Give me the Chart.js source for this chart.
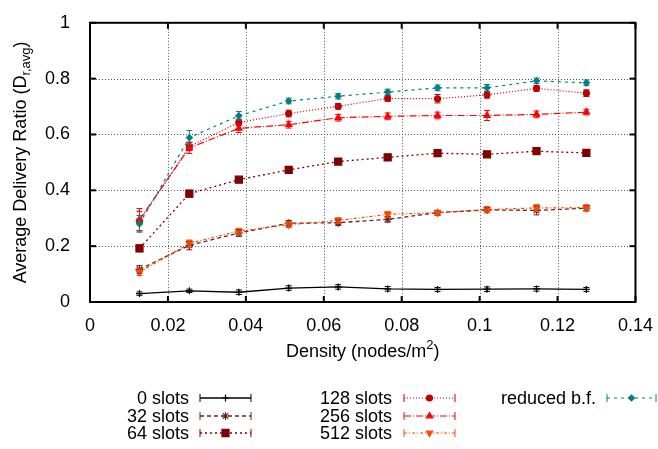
<!DOCTYPE html>
<html><head><meta charset="utf-8">
<script src="https://cdn.jsdelivr.net/npm/chart.js@4/dist/chart.umd.min.js"></script>
<style>html,body{margin:0;padding:0;background:#fff;}#wrap{width:658px;height:449px;}</style>
</head><body><div id="wrap"><canvas id="c" width="658" height="449"></canvas></div>
<script>
// ---- data ----
const density = [0.0127,0.0255,0.0382,0.0510,0.0637,0.0764,0.0892,0.1019,0.1146,0.1274];
const slots0   = [0.030,0.040,0.035,0.050,0.054,0.047,0.045,0.046,0.047,0.045];
const slots0Err= [0.006,0.006,0.008,0.008,0.008,0.008,0.007,0.008,0.008,0.007];
const slots32  = [0.117,0.203,0.247,0.282,0.284,0.296,0.320,0.330,0.328,0.336];
const slots32Err=[0.014,0.016,0.012,0.010,0.010,0.010,0.008,0.010,0.016,0.010];
const slots64  = [0.192,0.388,0.438,0.473,0.503,0.518,0.533,0.529,0.540,0.534];
const slots64Err=[0.012,0.012,0.010,0.010,0.010,0.010,0.008,0.010,0.010,0.010];
const slots128 = [0.290,0.557,0.643,0.675,0.701,0.729,0.728,0.742,0.765,0.748];
const slots128Err=[0.035,0.015,0.012,0.012,0.010,0.010,0.015,0.012,0.010,0.012];
const slots256 = [0.295,0.552,0.622,0.635,0.660,0.665,0.668,0.668,0.672,0.680];
const slots256Err=[0.040,0.020,0.015,0.012,0.012,0.012,0.012,0.018,0.012,0.010];
const slots512 = [0.107,0.210,0.254,0.277,0.292,0.314,0.320,0.331,0.337,0.338];
const slots512Err=[0.012,0.012,0.010,0.010,0.010,0.010,0.008,0.010,0.012,0.010];
const reducedBF= [0.280,0.589,0.667,0.720,0.737,0.752,0.767,0.767,0.792,0.785];
const reducedBFErr=[0.030,0.025,0.015,0.010,0.010,0.010,0.010,0.012,0.010,0.010];
const seriesNames = ['0 slots','32 slots','64 slots','128 slots','256 slots','512 slots','reduced b.f.'];
const xTickLabels = ['0','0.02','0.04','0.06','0.08','0.1','0.12','0.14'];
const yTickLabels = ['0','0.2','0.4','0.6','0.8','1'];
const xTitle = ['Density (nodes/m','2',')'];
const yTitle = ['Average Delivery Ratio (D','r,avg',')'];

// ---- styles ----
const FONT = '"Liberation Sans", Arial, Helvetica, sans-serif';
const FS = 18;
const styles = [
  {color:'#000000', dash:[], width:1.3, ps:'cross', r:3.5, rot:0},
  {color:'#6a2424', dash:[4,3], width:1.3, ps:'star', r:4, rot:0},
  {color:'#800000', dash:[2,3], width:1.3, ps:'rect', r:5, rot:0},
  {color:'#c00000', dash:[1,2], width:1.2, ps:'circle', r:3, rot:0},
  {color:'#ff0000', dash:[7,2,1,2], width:1.2, ps:'triangle', r:3.6, rot:0},
  {color:'#ff4a00', dash:[3,2,1,2], width:1.2, ps:'triangle', r:3.6, rot:180},
  {color:'#008080', dash:[3,4], width:1.2, ps:'rectRot', r:3, rot:0}
];
const values = [slots0,slots32,slots64,slots128,slots256,slots512,reducedBF];
const errors = [slots0Err,slots32Err,slots64Err,slots128Err,slots256Err,slots512Err,reducedBFErr];

const datasets = seriesNames.map((n,k)=>({
  label:n,
  data: density.map((d,i)=>({x:d,y:values[k][i]})),
  errs: errors[k],
  borderColor: styles[k].color, backgroundColor: styles[k].color,
  borderWidth: styles[k].width, borderDash: styles[k].dash,
  pointStyle: styles[k].ps, pointRadius: styles[k].r, pointRotation: styles[k].rot,
  pointBorderWidth: 1.2, pointHoverRadius: styles[k].r,
  tension: 0, fill:false, order: seriesNames.length - k
}));

function line(ctx,x1,y1,x2,y2){ctx.beginPath();ctx.moveTo(x1,y1);ctx.lineTo(x2,y2);ctx.stroke();}

const gp = {
  id:'gp',
  beforeDatasetsDraw(chart){
    const {ctx, chartArea:a, scales:{x,y}} = chart;
    ctx.save();
    ctx.strokeStyle='#555'; ctx.lineWidth=1; ctx.setLineDash([1,2]);
    xTickLabels.map(parseFloat).forEach(v=>{
      if(v<=0||v>=0.14) return;
      const px=Math.round(x.getPixelForValue(v))+0.5; line(ctx,px,a.top,px,a.bottom);
    });
    yTickLabels.map(parseFloat).forEach(v=>{
      if(v<=0||v>=1) return;
      const py=Math.round(y.getPixelForValue(v))+0.5; line(ctx,a.left,py,a.right,py);
    });
    ctx.restore();
  },
  afterDatasetsDraw(chart){
    const {ctx, scales:{x,y}} = chart;
    ctx.save(); ctx.setLineDash([]); ctx.lineWidth=1;
    chart.data.datasets.forEach((ds)=>{
      ctx.strokeStyle = ds.borderColor;
      ds.data.forEach((p,i)=>{
        const e = ds.errs[i];
        const px = x.getPixelForValue(p.x);
        const y1 = y.getPixelForValue(p.y-e), y2 = y.getPixelForValue(p.y+e);
        line(ctx,px,y1,px,y2); line(ctx,px-3,y1,px+3,y1); line(ctx,px-3,y2,px+3,y2);
      });
    });
    ctx.restore();
  },
  afterDraw(chart){
    const {ctx, chartArea:a, scales:{x,y}} = chart;
    ctx.save();
    ctx.setLineDash([]);
    ctx.strokeStyle='#000'; ctx.lineWidth=2;
    xTickLabels.map(parseFloat).forEach(v=>{
      const px=x.getPixelForValue(v);
      line(ctx,px,a.bottom,px,a.bottom-6); line(ctx,px,a.top,px,a.top+6);
    });
    yTickLabels.map(parseFloat).forEach(v=>{
      const py=y.getPixelForValue(v);
      line(ctx,a.left,py,a.left+6,py); line(ctx,a.right,py,a.right-6,py);
    });
    ctx.strokeRect(a.left,a.top,a.right-a.left,a.bottom-a.top);
    ctx.fillStyle='#000'; ctx.textBaseline='alphabetic';
    const big=FS+'px '+FONT, small='13px '+FONT;
    ctx.font=big; const w1=ctx.measureText(xTitle[0]).width, w3=ctx.measureText(xTitle[2]).width;
    ctx.font=small; const w2=ctx.measureText(xTitle[1]).width;
    let sx=(a.left+a.right)/2-(w1+w2+w3)/2, by=357;
    ctx.textAlign='left';
    ctx.font=big; ctx.fillText(xTitle[0],sx,by);
    ctx.font=small; ctx.fillText(xTitle[1],sx+w1,by-8);
    ctx.font=big; ctx.fillText(xTitle[2],sx+w1+w2,by);
    ctx.save();
    ctx.translate(26,(a.top+a.bottom)/2); ctx.rotate(-Math.PI/2);
    ctx.font=big; const v1=ctx.measureText(yTitle[0]).width, v3=ctx.measureText(yTitle[2]).width;
    ctx.font=small; const v2=ctx.measureText(yTitle[1]).width;
    let sy=-(v1+v2+v3)/2;
    ctx.font=big; ctx.fillText(yTitle[0],sy,0);
    ctx.font=small; ctx.fillText(yTitle[1],sy+v1,4);
    ctx.font=big; ctx.fillText(yTitle[2],sy+v1+v2,0);
    ctx.restore();
    const cols=[{tx:189,x1:200,x2:251},{tx:392,x1:404,x2:455},{tx:596,x1:607,x2:656}];
    const rows=[398,416,433];
    chart.data.datasets.forEach((ds,k)=>{
      const c=cols[Math.floor(k/3)], ry=rows[k%3];
      ctx.font=big; ctx.textAlign='right'; ctx.textBaseline='middle'; ctx.fillStyle='#000';
      ctx.fillText(ds.label,c.tx,ry+1);
      ctx.strokeStyle=ds.borderColor; ctx.fillStyle=ds.borderColor;
      ctx.lineWidth=ds.borderWidth; ctx.setLineDash(ds.borderDash);
      line(ctx,c.x1,ry,c.x2,ry);
      ctx.setLineDash([]); ctx.lineWidth=1;
      line(ctx,c.x1,ry-4,c.x1,ry+4); line(ctx,c.x2,ry-4,c.x2,ry+4);
      ctx.lineWidth=1.2;
      Chart.helpers.drawPoint(ctx,{pointStyle:ds.pointStyle,radius:ds.pointRadius,rotation:ds.pointRotation,borderWidth:1.2},(c.x1+c.x2)/2,ry);
    });
    ctx.restore();
  }
};

new Chart(document.getElementById('c'),{
  type:'line',
  data:{datasets},
  options:{
    responsive:false, animation:false, devicePixelRatio:1,
    layout:{padding:{left:0,right:22,top:10,bottom:87}},
    plugins:{legend:{display:false},tooltip:{enabled:false}},
    scales:{
      x:{type:'linear',min:0,max:0.14,
        afterBuildTicks:(s)=>{s.ticks=xTickLabels.map(t=>({value:parseFloat(t)}));},
        afterFit:(s)=>{s.height=60;},
        ticks:{callback:(v,i)=>xTickLabels[i],color:'#000',font:{family:FONT,size:FS},padding:5,maxRotation:0,autoSkip:false},
        grid:{display:false}, border:{display:false}},
      y:{type:'linear',min:0,max:1,
        afterBuildTicks:(s)=>{s.ticks=yTickLabels.map(t=>({value:parseFloat(t)}));},
        afterFit:(s)=>{s.width=90;},
        ticks:{callback:(v,i)=>yTickLabels[i],color:'#000',font:{family:FONT,size:FS},padding:12,autoSkip:false},
        grid:{display:false}, border:{display:false}}
    }
  },
  plugins:[gp]
});
</script></body></html>
